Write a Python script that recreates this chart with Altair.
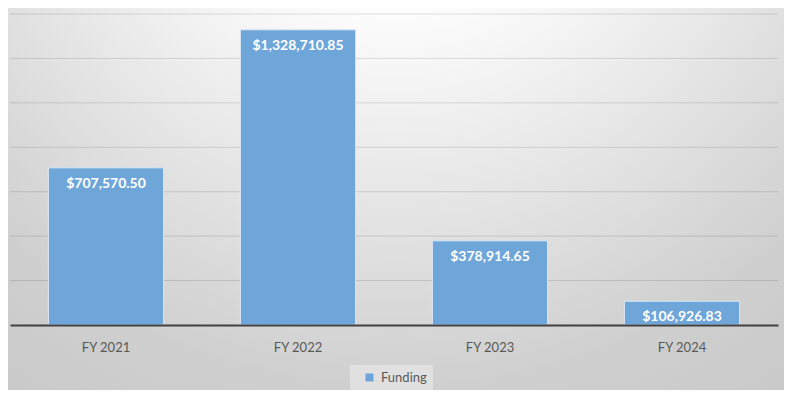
import altair as alt
import pandas as pd

years = ["FY 2021", "FY 2022", "FY 2023", "FY 2024"]
funding = [707570.50, 1328710.85, 378914.65, 106926.83]
series_name = ["Funding", "Funding", "Funding", "Funding"]
grid_values = [200000, 400000, 600000, 800000, 1000000, 1200000, 1400000]

df = pd.DataFrame({"year": years, "funding": funding, "series": series_name})
grid_df = pd.DataFrame({"v": grid_values})
bg_df = pd.DataFrame({"k": [0]})

FONT = "Lato"
BLUE = "#6fa6da"

gradient = alt.RadialGradient(
    gradient="radial",
    x1=0.5, y1=0.0, r1=0.0,
    x2=0.5, y2=0.0, r2=1.1,
    stops=[
        alt.GradientStop(offset=0.0, color="#ffffff"),
        alt.GradientStop(offset=0.21, color="#ffffff"),
        alt.GradientStop(offset=0.68, color="#cfcfcf"),
        alt.GradientStop(offset=0.96, color="#c4c4c4"),
        alt.GradientStop(offset=1.0, color="#c3c3c3"),
    ],
)

y_scale = alt.Scale(domain=[0, 1400000], nice=False, zero=True)
x_enc = alt.X(
    "year:N",
    sort=years,
    scale=alt.Scale(paddingInner=0.4, paddingOuter=0.2),
    axis=alt.Axis(
        title=None, labelAngle=0, ticks=False, grid=False,
        domainColor="#404040", domainWidth=2,
        labelFont=FONT, labelFontSize=13, labelColor="#595959",
        labelPadding=16, zindex=1,
    ),
)

bg = alt.Chart(bg_df).mark_rect(fill=gradient, stroke=None).encode(
    x=alt.value(-2), x2=alt.value(774), y=alt.value(-6), y2=alt.value(376)
)

grid = alt.Chart(grid_df).mark_rule(color="#000000", opacity=0.12, strokeWidth=1).encode(
    y=alt.Y("v:Q", scale=y_scale, axis=None)
)

bars = alt.Chart(df).mark_bar(stroke="#dbe7f4", strokeWidth=1).encode(
    x=x_enc,
    y=alt.Y("funding:Q", scale=y_scale, axis=None),
    color=alt.Color(
        "series:N",
        scale=alt.Scale(range=[BLUE]),
        legend=alt.Legend(
            title=None, orient="none", legendX=340, legendY=351,
            symbolType="square", symbolSize=64, symbolStrokeWidth=0,
            labelFont=FONT, labelFontSize=13, labelColor="#595959",
            fillColor="rgba(255,255,255,0.35)", padding=6,
            labelOffset=5, symbolOffset=7,
            labelExpr="datum.label + '   '",
        ),
    ),
)

labels = alt.Chart(df).mark_text(
    baseline="middle", dy=16, color="#ffffff", font=FONT, fontSize=14, fontWeight="bold"
).encode(
    x=alt.X("year:N", sort=years),
    y=alt.Y("funding:Q", scale=y_scale),
    text=alt.Text("funding:Q", format="$,.2f"),
)

chart = alt.layer(bg, grid, bars, labels).properties(
    width=768, height=311, padding=0
).configure_view(stroke=None)

chart.save("out.html", embed_options={"renderer": "svg", "actions": False})
